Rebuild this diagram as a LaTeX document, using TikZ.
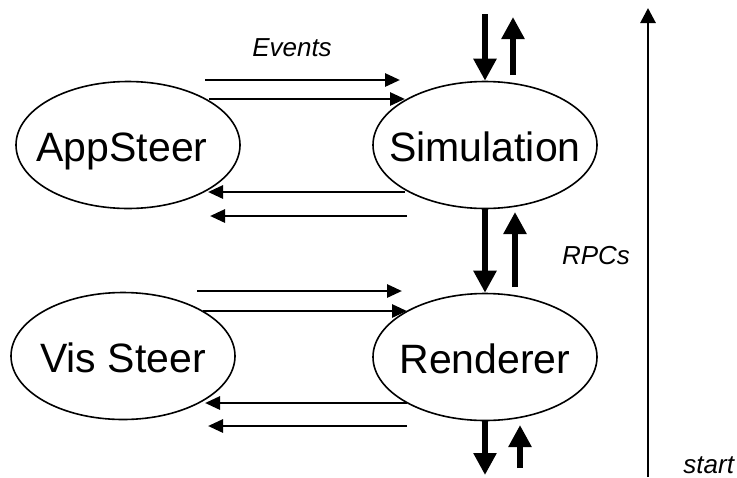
\documentclass[tikz,border=0pt]{standalone}
\usepackage{fontspec}
\setmainfont{Liberation Sans}
\usetikzlibrary{arrows.meta,shapes.geometric}

\begin{document}
\begin{tikzpicture}[x=0.5pt, y=-0.5pt,
  proc/.style={ellipse, draw, line width=0.8pt, minimum width=112pt,
    minimum height=63.5pt, inner sep=0pt},
  proclabel/.style={font=\fontsize{20.5}{24}\selectfont, text depth=0pt,
    yshift=-1pt},
  evt/.style={line width=1.4pt, -{Triangle[length=7.5pt,width=6.5pt]}},
  rpc/.style={line width=3pt, -{Triangle[length=11pt,width=11pt]}},
  lbl/.style={font=\fontsize{13}{15}\selectfont\itshape}]

\useasboundingbox (0,0) rectangle (737,477);

\node[proc, label={[proclabel, xshift=-3pt]center:AppSteer}] (app) at (128,145) {};
\node[proc, label={[proclabel]center:Simulation}] (sim) at (485,145) {};
\node[proc, label={[proclabel]center:Vis Steer}]  (vis) at (123,356) {};
\node[proc, label={[proclabel]center:Renderer}]   (ren) at (485,357) {};

% event arrow ends
\coordinate (e1s) at (205,80);  \coordinate (e1t) at (400,80);
\coordinate (e2s) at (209,99);  \coordinate (e2t) at (405,99);
\coordinate (e3s) at (405,192); \coordinate (e3t) at (208,192);
\coordinate (e4s) at (407,216); \coordinate (e4t) at (210,216);
\coordinate (e5s) at (197,291); \coordinate (e5t) at (402,291);
\coordinate (e6s) at (203,311); \coordinate (e6t) at (407,311);
\coordinate (e7s) at (407,403); \coordinate (e7t) at (205,403);
\coordinate (e8s) at (407,426); \coordinate (e8t) at (208,426);

\foreach \i in {1,...,8} {
  \draw[evt] (e\i s) -- (e\i t);
}

% rpc arrow ends
\coordinate (inS) at (485,14);
\coordinate (upS) at (513,75);  \coordinate (upT) at (513,17);
\coordinate (midS) at (515,287); \coordinate (midT) at (515,212);
\coordinate (outT) at (485,475);
\coordinate (botS) at (520,468); \coordinate (botT) at (520,425);

\draw[rpc] (inS) -- (sim.north);
\draw[rpc] (upS) -- (upT);
\draw[rpc] (sim.south) -- (ren.north);
\draw[rpc] (midS) -- (midT);
\draw[rpc] (ren.south) -- (outT);
\draw[rpc] (botS) -- (botT);

% time axis
\coordinate (t0) at (648,477);
\coordinate (t1) at (648,8);
\draw[line width=1.4pt, -{Triangle[length=7.5pt,width=7.5pt]}] (t0) -- (t1);

\node[lbl] (events) at (292,48) {Events};
\node[lbl] (rpcs) at (596,256) {RPCs};
\node[lbl, anchor=base west, inner sep=0pt] (start) at (683,473) {start};

\end{tikzpicture}
\end{document}
